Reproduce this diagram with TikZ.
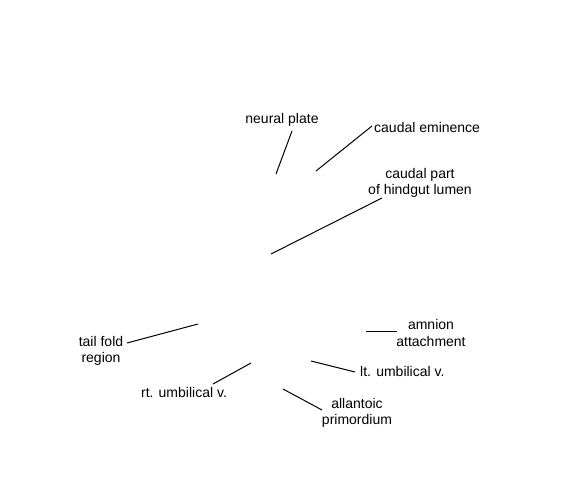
\documentclass[tikz,border=0pt]{standalone}
\usepackage{fontspec}
\setmainfont{Liberation Sans}
\usetikzlibrary{positioning}

\begin{document}
\begin{tikzpicture}[
    x=1pt, y=-1pt,
    lbl/.style={
        inner sep=0pt,
        align=center,
        font=\fontsize{14}{16.5}\selectfont
    },
    lead/.style={line width=1pt}
]
\useasboundingbox (0,0) rectangle (561,495);

% Labels
\node[lbl] (neural) at (282,120) {neural plate};
\node[lbl, anchor=west] (eminence) at (374,127) {caudal eminence};
\node[lbl] (hindgut) at (420,183) {caudal part\\of hindgut lumen};
\node[lbl] (tailfold) at (101,351) {tail fold\\region};
\node[lbl] (rtumb) at (184,392) {rt. umbilical v.};
\node[lbl] (amnion) at (431,333) {amnion\\attachment};
\node[lbl, anchor=west] (ltumb) at (360,371) {lt. umbilical v.};
\node[lbl] (allantoic) at (357,413) {allantoic\\primordium};

% Leader line ends
\coordinate (neural-a) at (292,131);
\coordinate (neural-b) at (276,174);
\coordinate (eminence-a) at (372,126);
\coordinate (eminence-b) at (316,171);
\coordinate (hindgut-a) at (382,198);
\coordinate (hindgut-b) at (271,254);
\coordinate (tailfold-a) at (127,343);
\coordinate (tailfold-b) at (198,324);
\coordinate (rtumb-a) at (213,384);
\coordinate (rtumb-b) at (251,363);
\coordinate (amnion-a) at (397,331);
\coordinate (amnion-b) at (366,331);
\coordinate (ltumb-a) at (355,372);
\coordinate (ltumb-b) at (311,361);
\coordinate (allantoic-a) at (322,410);
\coordinate (allantoic-b) at (283,389);

% Leader lines
\draw[lead] (neural-a) -- (neural-b);
\draw[lead] (eminence-a) -- (eminence-b);
\draw[lead] (hindgut-a) -- (hindgut-b);
\draw[lead] (tailfold-a) -- (tailfold-b);
\draw[lead] (rtumb-a) -- (rtumb-b);
\draw[lead] (amnion-a) -- (amnion-b);
\draw[lead] (ltumb-a) -- (ltumb-b);
\draw[lead] (allantoic-a) -- (allantoic-b);

\end{tikzpicture}
\end{document}
